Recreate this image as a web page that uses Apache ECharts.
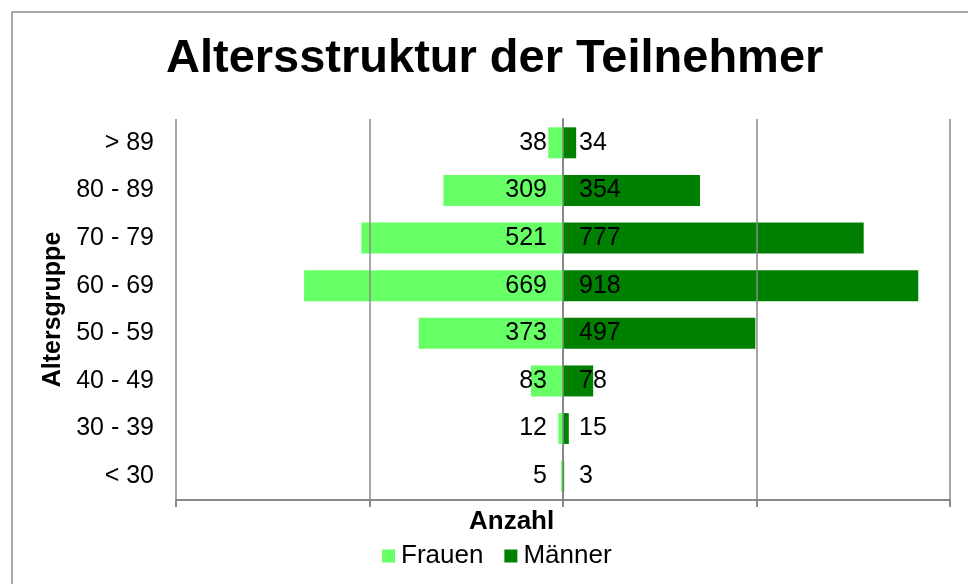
<!DOCTYPE html>
<html>
<head>
<meta charset="utf-8">
<script src="https://cdn.jsdelivr.net/npm/echarts@6/dist/echarts.min.js"></script>
<style>
html,body{margin:0;padding:0;background:#fff;}
#c{width:968px;height:584px;}
</style>
</head>
<body>
<div id="c"></div>
<script>
const categories = ["< 30", "30 - 39", "40 - 49", "50 - 59", "60 - 69", "70 - 79", "80 - 89", "> 89"];
const frauen = [5, 12, 83, 373, 669, 521, 309, 38];
const maenner = [3, 15, 78, 497, 918, 777, 354, 34];
const xTicks = [-1000, -500, 0, 500, 1000];

const FONT = '"Liberation Sans", Arial, sans-serif';
const chart = echarts.init(document.getElementById('c'), null, {renderer: 'canvas'});
chart.setOption({
  animation: false,
  textStyle: {fontFamily: FONT},
  title: {
    text: 'Altersstruktur der Teilnehmer',
    left: 161, top: 31,
    textStyle: {fontFamily: FONT, fontSize: 47, fontWeight: 'bold', color: '#000'}
  },
  graphic: [
    {type: 'rect', z: -1, shape: {x: 12, y: 12, width: 970, height: 600}, style: {fill: '#fff', stroke: '#8c8c8c', lineWidth: 1.5}},
    {type: 'text', left: 469, top: 509, style: {text: 'Anzahl', font: 'bold 26px ' + FONT, fill: '#000'}}
  ],
  legend: {
    data: ['Frauen', 'Männer'],
    left: 377, top: 538,
    itemWidth: 13, itemHeight: 13, itemGap: 21,
    icon: 'rect',
    textStyle: {fontFamily: FONT, fontSize: 26, color: '#000', padding: [0, 0, 0, 1]}
  },
  grid: {left: 176, right: 18, top: 119, bottom: 84, containLabel: false},
  xAxis: {
    type: 'value', min: xTicks[0], max: xTicks[xTicks.length - 1], interval: 500,
    z: 5,
    axisLine: {show: true, onZero: false, lineStyle: {color: '#888', width: 2}},
    axisTick: {show: true, length: 7, lineStyle: {color: '#888', width: 2}},
    axisLabel: {show: false},
    splitLine: {show: true, lineStyle: {color: '#888', width: 1.5}}
  },
  yAxis: {
    type: 'category', data: categories,
    name: 'Altersgruppe', nameLocation: 'middle', nameGap: 110, nameRotate: 90,
    nameTextStyle: {fontFamily: FONT, fontSize: 25, fontWeight: 'bold', color: '#000'},
    axisLine: {show: true, lineStyle: {color: '#888', width: 2}},
    axisTick: {show: false},
    axisLabel: {fontFamily: FONT, fontSize: 25, color: '#000', margin: 22}
  },
  series: [
    {
      name: 'Frauen', type: 'bar', stack: 'total', barCategoryGap: '35%',
      data: frauen.map(v => -v),
      itemStyle: {color: '#66ff66'},
      label: {show: true, position: 'insideRight', distance: 16, fontFamily: FONT, fontSize: 25, color: '#000',
        formatter: p => Math.abs(p.value)}
    },
    {
      name: 'Männer', type: 'bar', stack: 'total', barCategoryGap: '35%',
      data: maenner,
      itemStyle: {color: '#008000'},
      label: {show: true, position: 'insideLeft', distance: 16, fontFamily: FONT, fontSize: 25, color: '#000'}
    }
  ]
});
</script>
</body>
</html>
